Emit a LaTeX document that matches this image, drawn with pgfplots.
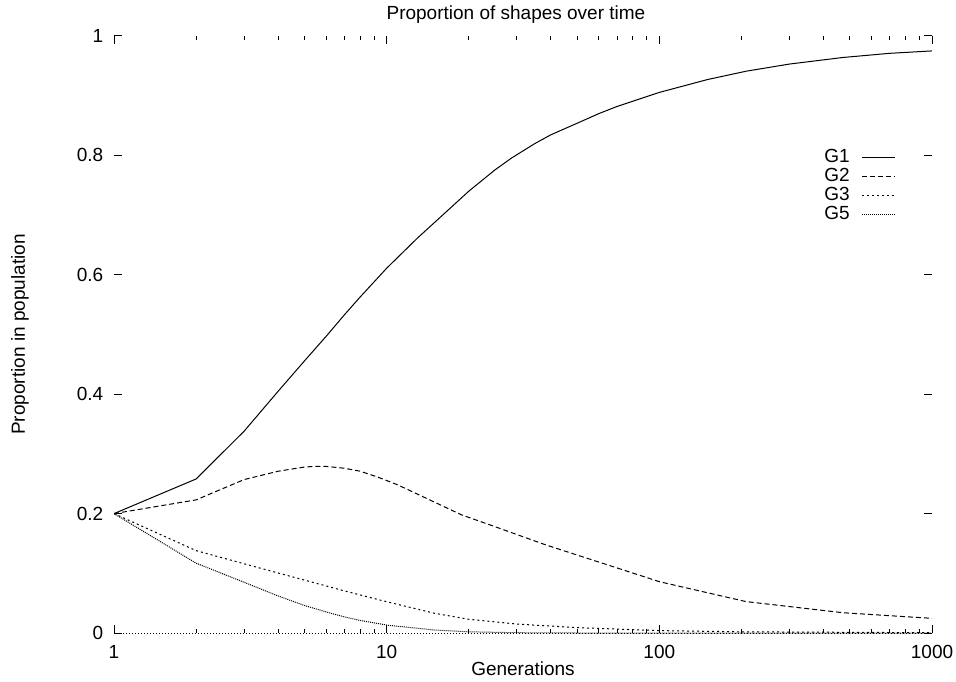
\documentclass[border=0pt]{standalone}
\usepackage{fontspec}
\setmainfont{Liberation Sans}
\usepackage{pgfplots}
\usetikzlibrary{calc}
\pgfplotsset{compat=1.18}
\begin{document}
\fontsize{9.5pt}{11pt}\selectfont
\begin{tikzpicture}
\begin{axis}[
  scale only axis,
  width=409pt,
  height=298.5pt,
  xmode=log,
  xmin=1, xmax=1000,
  ymin=0, ymax=1,
  xtick={1,10,100,1000},
  xticklabels={1,10,100,1000},
  ytick={0,0.2,0.4,0.6,0.8,1},
  yticklabels={0,0.2,0.4,0.6,0.8,1},
  axis line style={draw=none},
  tick style={black, line width=0.5pt},
  major tick length=4pt,
  minor tick length=2pt,
  tick align=inside,
  /pgf/number format/assume math mode=true,
  yticklabel style={anchor=east, xshift=-2pt},
  xticklabel style={anchor=center, yshift=-9.5pt},
  title={Proportion of shapes over time},
  xlabel={Generations},
  ylabel={Proportion in population},
  title style={at={(axis description cs:0.4914,1.0369)}, anchor=center, yshift=-6.5pt},
  xlabel style={at={(axis description cs:0.5,-0.0603)}, anchor=center},
  ylabel style={at={(axis description cs:-0.1149,0.5)}, anchor=center},
  legend plot pos=right,
  legend cell align=right,
  legend style={draw=none, fill=none, at={(0.956,0.8174)}, anchor=north east,
    inner sep=0pt, row sep=-2.6pt, column sep=4pt, font=\fontsize{9.5pt}{11pt}\selectfont},
  legend image code/.code={\draw[#1] (0pt,0pt) -- (16.5pt,0pt);},
]
\coordinate (sw) at (rel axis cs:0,0);
\coordinate (ne) at (rel axis cs:1,1);
% G1
\addplot[black, solid, line width=0.5pt] coordinates {(1,0.2) (2,0.258) (3,0.338) (4,0.405) (5,0.456) (6,0.497) (7,0.533) (8,0.563) (10,0.611) (13,0.662) (16.4,0.704) (20,0.740) (25,0.776) (28.8,0.796) (35,0.820) (40,0.8345) (50.6,0.855) (60,0.870) (70,0.882) (100,0.9055) (150,0.927) (208,0.941) (300,0.953) (471,0.964) (700,0.971) (1000,0.975)};
% G2
\addplot[black, line width=0.5pt, dash pattern=on 2.5pt off 1.5pt] coordinates {(1,0.2) (2,0.223) (3,0.257) (4,0.271) (5,0.278) (5.4,0.279) (6,0.279) (7,0.276) (8,0.271) (9.3,0.261) (11,0.248) (14,0.2255) (18.8,0.198) (25,0.178) (30,0.165) (38.1,0.148) (50,0.1305) (70,0.109) (100,0.086) (150,0.0675) (208,0.0526) (300,0.0443) (471,0.034) (700,0.029) (1000,0.0246)};
% G3
\addplot[black, line width=0.5pt, dash pattern=on 1pt off 1.5pt] coordinates {(1,0.2) (2,0.138) (3,0.116) (4,0.1005) (5,0.0886) (7,0.0705) (10,0.0524) (15,0.033) (20,0.023) (30,0.015) (50,0.009) (100,0.004) (200,0.002) (1000,0.0005)};
% G5
\addplot[black, line width=0.5pt, dash pattern=on 0.5pt off 0.5pt] coordinates {(1,0.2) (2,0.117) (3,0.085) (4,0.062) (5,0.046) (6.25,0.033) (7,0.027) (8,0.021) (10.1,0.013) (15,0.005) (20,0.002) (30,0.0005) (50,0) (1000,0)};
% G4 (no key)
\addplot[black, line width=0.5pt, dash pattern=on 0.5pt off 1pt, forget plot] coordinates {(1,0) (10,0) (100,0) (1000,0)};
\legend{G1,G2,G3,G5}
\end{axis}
\pgfresetboundingbox
\useasboundingbox ($(sw)+(-57pt,-24pt)$) rectangle ($(ne)+(12pt,18pt)$);
\end{tikzpicture}
\end{document}
